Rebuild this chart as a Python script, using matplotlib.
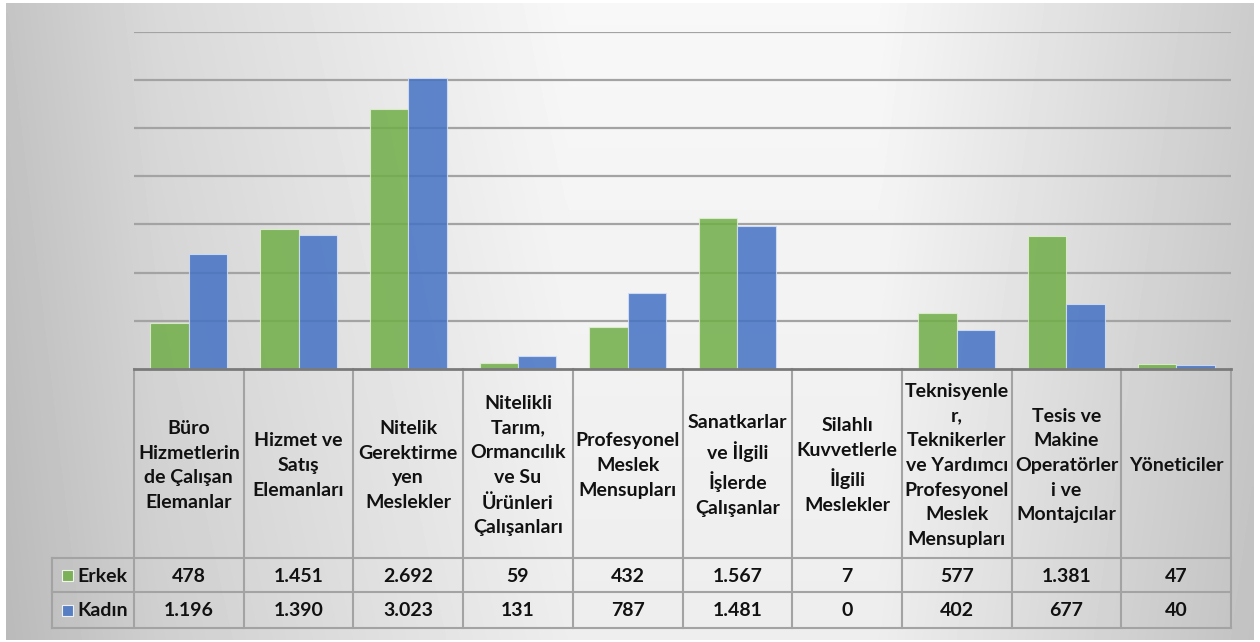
import numpy as np
import matplotlib
matplotlib.use("Agg")
import matplotlib.pyplot as plt
from matplotlib.patches import Rectangle

plt.rcParams['font.family'] = ['Lato', 'DejaVu Sans']

# Veriler
categories = [
    "Büro\nHizmetlerin\nde Çalışan\nElemanlar",
    "Hizmet ve\nSatış\nElemanları",
    "Nitelik\nGerektirme\nyen\nMeslekler",
    "Nitelikli\nTarım,\nOrmancılık\nve Su\nÜrünleri\nÇalışanları",
    "Profesyonel\nMeslek\nMensupları",
    "Sanatkarlar\nve İlgili\nİşlerde\nÇalışanlar",
    "Silahlı\nKuvvetlerle\nİlgili\nMeslekler",
    "Teknisyenle\nr,\nTeknikerler\nve Yardımcı\nProfesyonel\nMeslek\nMensupları",
    "Tesis ve\nMakine\nOperatörler\ni ve\nMontajcılar",
    "Yöneticiler",
]
erkek = [478, 1451, 2692, 59, 432, 1567, 7, 577, 1381, 47]
kadin = [1196, 1390, 3023, 131, 787, 1481, 0, 402, 677, 40]
series_names = ["Erkek", "Kadın"]

GREEN = '#70AD47'
BLUE = '#4472C4'
GRID = '#a3a3a3'
TXT = '#111111'
W, H = 1260, 642

fig = plt.figure(figsize=(W / 100, H / 100), dpi=100, facecolor='white')

# arka plan + tablo katmanı (piksel koordinatları)
bg = fig.add_axes([0, 0, 1, 1], zorder=0)
bg.set_xlim(0, W)
bg.set_ylim(H, 0)
bg.axis('off')

xs = np.linspace(0, 1, 300)
prof = np.interp(xs, [0, 0.12, 0.45, 0.7, 1.0], [0.77, 0.85, 0.97, 0.97, 0.80])
ys = np.linspace(0, 1, 150)[:, None]
grad = prof[None, :] - 0.04 * ys
bg.imshow(grad, cmap='gray', vmin=0, vmax=1, extent=[6, 1254, 640, 3],
          aspect='auto', interpolation='bilinear', zorder=0)

# ana grafik
left, right, base, top = 134, 1231, 369, 31.6
ax = fig.add_axes([left / W, 1 - base / H, (right - left) / W, (base - top) / H],
                  zorder=1)
ax.patch.set_alpha(0)
x = np.arange(len(categories))
bw = 0.35
ax.bar(x - bw / 2, erkek, bw, color=GREEN, alpha=0.85, edgecolor='#dff0d0',
       linewidth=0.8, zorder=3)
ax.bar(x + bw / 2, kadin, bw, color=BLUE, alpha=0.85, edgecolor='#d5e0f5',
       linewidth=0.8, zorder=3)
ax.set_xlim(-0.5, len(categories) - 0.5)
ax.set_ylim(0, 3500)
ax.set_yticks(np.arange(500, 3501, 500))
ax.yaxis.grid(True, color=GRID, linewidth=1.6, zorder=1)
ax.set_axisbelow(True)
ax.tick_params(left=False, bottom=False, labelleft=False, labelbottom=False)
for s in ['top', 'right', 'left']:
    ax.spines[s].set_visible(False)
ax.spines['bottom'].set_color('#7a7a7a')
ax.spines['bottom'].set_linewidth(2)
ax.spines['bottom'].set_zorder(5)

# veri tablosu
col_w = (right - left) / len(categories)
row1, row2, row3 = 558, 592, 628
leg_left = 52
lc = dict(color=GRID, linewidth=1.5, zorder=2)
for i in range(len(categories) + 1):
    xx = left + i * col_w
    bg.plot([xx, xx], [base, row3], **lc)
bg.plot([leg_left, leg_left], [row1, row3], **lc)
for yy in (row1, row2, row3):
    bg.plot([leg_left, right], [yy, yy], **lc)

fs = 14
for i, name in enumerate(categories):
    cx = left + (i + 0.5) * col_w
    bg.text(cx, (base + row1) / 2 + 2, name, ha='center', va='center',
            fontsize=fs, fontweight='bold', linespacing=1.55, color=TXT,
            zorder=3)

for vals, (y0, y1) in ((erkek, (row1, row2)), (kadin, (row2, row3))):
    for i, v in enumerate(vals):
        cx = left + (i + 0.5) * col_w
        bg.text(cx, (y0 + y1) / 2 + 1, f"{v:,}".replace(",", "."), ha='center',
                va='center', fontsize=fs, fontweight='bold', color=TXT,
                zorder=3)

for name, col, (y0, y1) in ((series_names[0], GREEN, (row1, row2)),
                            (series_names[1], BLUE, (row2, row3))):
    cy = (y0 + y1) / 2
    bg.add_patch(Rectangle((62, cy - 5.5), 11, 11, facecolor=col, alpha=0.85,
                           edgecolor='white', linewidth=0.8, zorder=3))
    bg.text(77, cy + 1, name, ha='left', va='center', fontsize=fs,
            fontweight='bold', color=TXT, zorder=3)

fig.savefig('out.png', dpi=100, facecolor=fig.get_facecolor())
